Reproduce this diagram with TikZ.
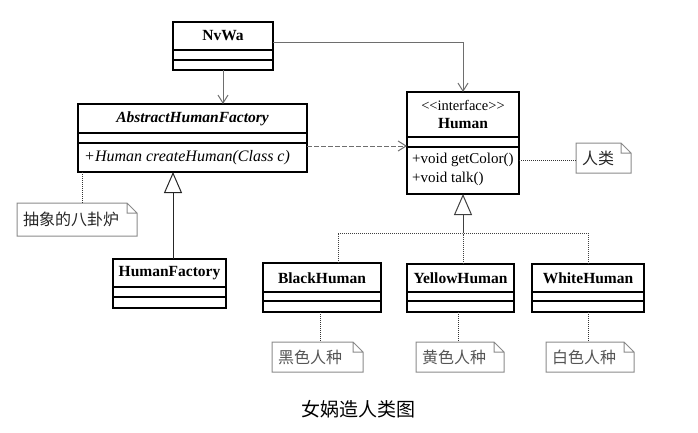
\documentclass[tikz,border=0pt]{standalone}
\usepackage{fontspec}
\setmainfont{Liberation Serif}
\newfontfamily\cjk{Noto Sans CJK SC}
\usetikzlibrary{arrows.meta}
\definecolor{conn}{HTML}{6E6E6E}
\definecolor{notefr}{HTML}{8A8A8A}
\definecolor{notetx}{HTML}{555555}
\newcommand\notefold[1]{%
  \draw[notefrm] (#1.north west) -- ([xshift=-10pt]#1.north east) -- ([yshift=-10pt]#1.north east) -- (#1.south east) -- (#1.south west) -- cycle
    ([xshift=-10pt]#1.north east) -- ([xshift=-10pt,yshift=-10pt]#1.north east) -- ([yshift=-10pt]#1.north east);}
\begin{document}
\begin{tikzpicture}[x=1pt,y=-1pt,
  cls/.style={draw=black, line width=1.2pt, inner sep=0pt, outer sep=0pt, anchor=north west, fill=white},
  divl/.style={draw=black, line width=1.1pt},
  ttl/.style={font=\fontsize{15.5}{16}\selectfont\bfseries, inner sep=0pt},
  mth/.style={font=\fontsize{15}{16}\selectfont, inner sep=0pt, anchor=west},
  conline/.style={draw=conn, line width=1pt},
  openarr/.style={conline, -{Straight Barb[length=8pt,width=10pt,line width=1pt]}},
  genarr/.style={-{Triangle[open,length=21pt,width=18pt,line width=1pt,fill=white]}},
  dep/.style={conline, dash pattern=on 5pt off 2pt},
  dots/.style={draw=black!80, line width=0.9pt, dash pattern=on 1pt off 1pt},
  real/.style={draw=black!75, line width=0.9pt, dash pattern=on 1pt off 1pt},
  notefrm/.style={draw=notefr, line width=1pt},
  note/.style={inner xsep=6pt, inner ysep=0pt, minimum height=30pt, align=left, text width=#1, anchor=north west, outer sep=0pt, font=\cjk\fontsize{16}{16}\selectfont}
]
\useasboundingbox (0,0) rectangle (698,433);

% ---------- NvWa ----------
\node[cls, minimum width=100pt, minimum height=48pt] (nvwa) at (173,22) {};
\draw[divl] (173,50) -- (273,50) (173,60) -- (273,60);
\node[ttl] (nvwaT) at (223,36) {NvWa};

% ---------- AbstractHumanFactory ----------
\node[cls, minimum width=229pt, minimum height=68pt] (ahf) at (78,104) {};
\draw[divl] (78,133) -- (307,133) (78,143) -- (307,143);
\node[ttl, font=\fontsize{15.5}{16}\selectfont\bfseries\itshape] (ahfT) at (192.5,118.5) {AbstractHumanFactory};
\node[mth, font=\fontsize{16}{16}\selectfont\itshape] (ahfM) at (84,157.5) {+Human createHuman(Class c)};

% ---------- Human ----------
\node[cls, minimum width=112pt, minimum height=102pt] (human) at (407,92) {};
\draw[divl] (407,137) -- (519,137) (407,147) -- (519,147);
\node[inner sep=0pt, font=\fontsize{14.5}{15}\selectfont] (humS) at (463,105) {{<}{<}interface{>}{>}};
\node[ttl] (humT) at (463,123.5) {Human};
\node[mth] (humM1) at (412,160) {+void getColor()};
\node[mth] (humM2) at (412,178.5) {+void talk()};

% ---------- HumanFactory ----------
\node[cls, minimum width=113pt, minimum height=49pt] (hf) at (113,259) {};
\draw[divl] (113,287) -- (226,287) (113,297) -- (226,297);
\node[ttl] (hfT) at (169.5,273) {HumanFactory};

% ---------- BlackHuman ----------
\node[cls, minimum width=118pt, minimum height=49pt] (black) at (263,263) {};
\draw[divl] (263,292) -- (381,292) (263,301) -- (381,301);
\node[ttl] (blackT) at (322,278) {BlackHuman};

% ---------- YellowHuman ----------
\node[cls, minimum width=107pt, minimum height=48pt] (yellow) at (407,264) {};
\draw[divl] (407,292) -- (514,292) (407,301) -- (514,301);
\node[ttl] (yellowT) at (460.5,278) {YellowHuman};

% ---------- WhiteHuman ----------
\node[cls, minimum width=112pt, minimum height=48pt] (white) at (532,264) {};
\draw[divl] (532,292) -- (644,292) (532,301) -- (644,301);
\node[ttl] (whiteT) at (588,278) {WhiteHuman};

% ---------- Notes ----------
\node[note=108pt, minimum height=33pt, text=black!85] (nafc) at (17,203) {抽象的八卦炉};
\notefold{nafc}
\node[note=43pt, text=black!85] (nhum) at (576,143) {人类};
\notefold{nhum}
\node[note=79pt, text=notetx] (nblack) at (272,342) {黑色人种};
\notefold{nblack}
\node[note=76pt, text=notetx] (nyellow) at (416,342) {黄色人种};
\notefold{nyellow}
\node[note=76pt, text=notetx] (nwhite) at (546,342) {白色人种};
\notefold{nwhite}

% ---------- helper coordinates ----------
\coordinate (nvwaOut) at (273,43);
\coordinate (depY) at (0,146);
\coordinate (m1Y) at (0,160);
\coordinate (hfX) at (173,0);
\coordinate (afcX) at (82,0);
\coordinate (bus) at (463,233);
\coordinate (blkX) at (338,0);

% ---------- Connectors ----------
\draw[openarr] (nvwa.south) -- (nvwa.south |- ahf.north);
\draw[openarr] (nvwaOut) -| (human.north);
\draw[dep, -{Straight Barb[length=8pt,width=10pt,line width=1pt]}] (ahf.east |- depY) -- (human.west |- depY);
\draw[dots] (human.east |- m1Y) -- (nhum.west |- m1Y);
\draw[conline, draw=black!85, genarr] (hf.north -| hfX) -- (ahf.south -| hfX);
\draw[dots] (ahf.south -| afcX) -- (nafc.north -| afcX);
\draw[real] (black.north -| blkX) |- (bus) -| (white.north);
\draw[real, dash pattern=on 1pt off 1pt] (yellow.north -| bus) -- ([yshift=-0.5pt]bus);
\draw[conline, draw=black!75, genarr] (bus) -- (human.south);
\draw[dots] (black.south -| 320,0) -- (nblack.north -| 320,0);
\draw[dots] (yellow.south -| 458,0) -- (nyellow.north -| 458,0);
\draw[dots] (white.south) -- (white.south |- nwhite.north);

% ---------- Caption ----------
\node[inner sep=0pt, font=\cjk\fontsize{19}{19}\selectfont] (cap) at (358,409) {女娲造人类图};
\end{tikzpicture}
\end{document}
